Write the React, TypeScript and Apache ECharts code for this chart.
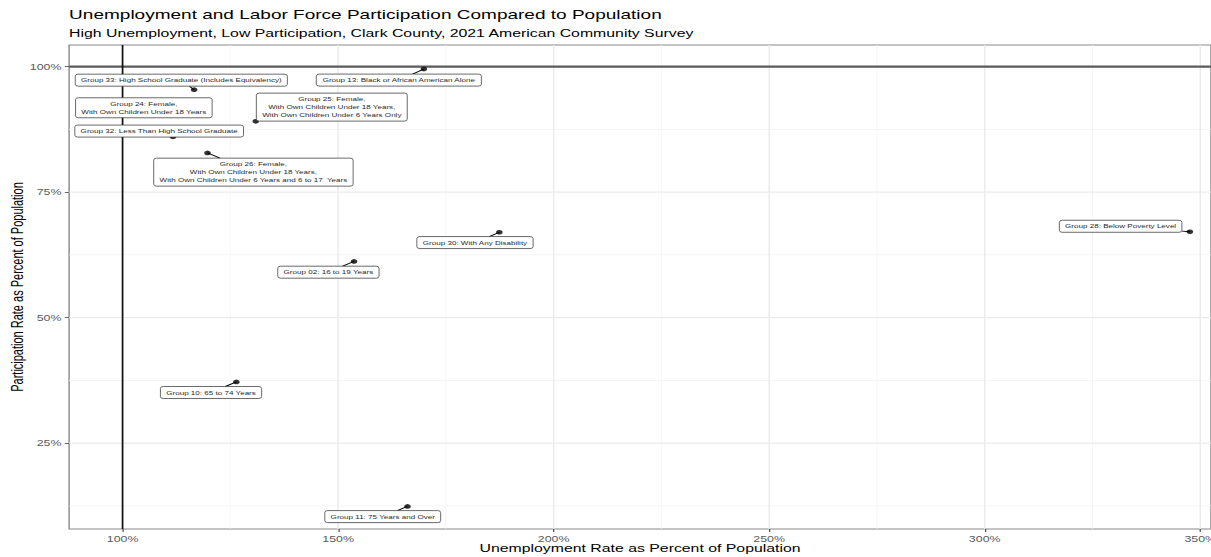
import React, { useEffect, useRef } from 'react';
import * as echarts from 'echarts';

// ---------- data ----------
const groupLabels = [
  'Group 33: High School Graduate (Includes Equivalency)',
  'Group 13: Black or African American Alone',
  'Group 24: Female,\nWith Own Children Under 18 Years',
  'Group 25: Female,\nWith Own Children Under 18 Years,\nWith Own Children Under 6 Years Only',
  'Group 32: Less Than High School Graduate',
  'Group 26: Female,\nWith Own Children Under 18 Years,\nWith Own Children Under 6 Years and 6 to 17  Years',
  'Group 30: With Any Disability',
  'Group 02: 16 to 19 Years',
  'Group 28: Below Poverty Level',
  'Group 10: 65 to 74 Years',
  'Group 11: 75 Years and Over',
];
const unemploymentPct = [116.6, 169.9, 104.5, 130.9, 111.7, 119.7, 187.4, 153.7, 347.6, 126.4, 166.1];
const participationPct = [95.4, 99.5, 91.0, 89.1, 86.0, 82.8, 67.0, 61.2, 67.1, 37.2, 12.4];

const xTickValues = [100, 150, 200, 250, 300, 350];
const yTickValues = [25, 50, 75, 100];
const xMinorGrid = [125, 175, 225, 275, 325];
const yMinorGrid = [12.5, 37.5, 62.5, 87.5];
const referenceX = [100];
const referenceY = [100];

const titleText = 'Unemployment and Labor Force Participation Compared to Population';
const subtitleText = 'High Unemployment, Low Participation, Clark County, 2021 American Community Survey';
const xTitle = 'Unemployment Rate as Percent of Population';
const yTitle = 'Participation Rate as Percent of Population';

// ---------- layout (pixels, in the un-stretched chart frame) ----------
const labelOffsets: number[][] = [
  [-8.9, -9.5],
  [-17.4, 11],
  [1.3, -4],
  [52.8, -14.2],
  [-9.6, -5.8],
  [31.9, 19.2],
  [-16.9, 10.3],
  [-17.8, 10.8],
  [-48.1, -5.5],
  [-17.6, 10.6],
  [-17.2, 10.2],
];

const FONT = '"Liberation Sans", Arial, Helvetica, sans-serif';
const INNER_W = 841;
const H = 557;
const SX = 1211 / INNER_W;
const LBL_FS = 5.6;
const LBL_LH = 8;
const PAD_H = 4;
const PAD_V = 2;

let measureCtx: CanvasRenderingContext2D | null = null;
function measure(t: string): number {
  if (!measureCtx) {
    const c = document.createElement('canvas');
    measureCtx = c.getContext('2d');
  }
  if (!measureCtx) return t.length * LBL_FS * 0.5;
  measureCtx.font = `${LBL_FS}px ${FONT}`;
  return measureCtx.measureText(t).width;
}

export default function App() {
  const ref = useRef<HTMLDivElement>(null);
  useEffect(() => {
    if (!ref.current) return;
    const chart = echarts.init(ref.current, undefined, { renderer: 'svg' });

    const vLines = (values: number[], color: string, width: number, z: number) => ({
      type: 'custom',
      z,
      silent: true,
      clip: true,
      encode: { x: 0 },
      data: values.map((v) => [v]),
      renderItem: (params: any, api: any) => {
        const cs = params.coordSys;
        const px = api.coord([api.value(0), 50])[0];
        return {
          type: 'line',
          shape: { x1: px, y1: cs.y, x2: px, y2: cs.y + cs.height },
          style: { stroke: color, lineWidth: width },
        };
      },
    });
    const hLines = (values: number[], color: string, width: number, z: number) => ({
      type: 'custom',
      z,
      silent: true,
      clip: true,
      encode: { y: 0 },
      data: values.map((v) => [v]),
      renderItem: (params: any, api: any) => {
        const cs = params.coordSys;
        const py = api.coord([200, api.value(0)])[1];
        return {
          type: 'line',
          shape: { x1: cs.x, y1: py, x2: cs.x + cs.width, y2: py },
          style: { stroke: color, lineWidth: width },
        };
      },
    });

    const points = unemploymentPct.map((x, i) => [x, participationPct[i]]);

    const option: any = {
      animation: false,
      backgroundColor: '#fff',
      title: [
        {
          text: titleText,
          left: 48,
          top: 8,
          padding: 0,
          textStyle: { fontSize: 13.2, fontWeight: 'normal', color: '#000', fontFamily: FONT, lineHeight: 13.2 },
        },
        {
          text: subtitleText,
          left: 48,
          top: 28,
          padding: 0,
          textStyle: { fontSize: 11, fontWeight: 'normal', color: '#000', fontFamily: FONT, lineHeight: 11 },
        },
      ],
      grid: {
        left: 48,
        right: 0,
        top: 45,
        bottom: 28,
        containLabel: false,
        outerBoundsMode: 'none',
        show: true,
        borderColor: '#8a8a8a',
        borderWidth: 1,
        backgroundColor: 'transparent',
      },
      xAxis: {
        type: 'value',
        min: 87.6,
        max: 352.5,
        name: xTitle,
        nameLocation: 'middle',
        nameGap: 14,
        nameMoveOverlap: false,
        nameTextStyle: { fontSize: 11, color: '#000', fontFamily: FONT },
        axisLine: { show: false },
        splitLine: { show: false },
        axisTick: {
          show: true,
          length: 3,
          customValues: xTickValues,
          lineStyle: { color: '#444', width: 0.8 },
        },
        axisLabel: {
          customValues: xTickValues,
          formatter: '{value}%',
          fontSize: 8.6,
          color: '#5a5a5a',
          fontFamily: FONT,
          margin: 5,
        },
      },
      yAxis: {
        type: 'value',
        min: 7.9,
        max: 104.3,
        name: yTitle,
        nameLocation: 'middle',
        nameGap: 30,
        nameMoveOverlap: false,
        nameTextStyle: { fontSize: 11, color: '#000', fontFamily: FONT },
        axisLine: { show: false },
        splitLine: { show: false },
        axisTick: {
          show: true,
          length: 3,
          customValues: yTickValues,
          lineStyle: { color: '#444', width: 0.8 },
        },
        axisLabel: {
          customValues: yTickValues,
          formatter: '{value}%',
          fontSize: 8.6,
          color: '#5a5a5a',
          fontFamily: FONT,
          margin: 5.3,
        },
      },
      series: [
        vLines(xMinorGrid, '#f2f2f2', 0.6, 1),
        hLines(yMinorGrid, '#f2f2f2', 0.8, 1),
        vLines(xTickValues, '#ebebeb', 1, 1),
        hLines(yTickValues, '#ebebeb', 1.2, 1),
        hLines(referenceY, '#5a5a5a', 2.2, 2),
        vLines(referenceX, '#111', 1.2, 2),
        {
          type: 'scatter',
          z: 3,
          silent: true,
          symbol: 'circle',
          symbolSize: 4.6,
          itemStyle: { color: '#000' },
          data: points,
        },
        {
          type: 'custom',
          z: 4,
          silent: true,
          clip: false,
          data: points,
          renderItem: (params: any, api: any) => {
            const i = params.dataIndex;
            const p = api.coord([api.value(0), api.value(1)]);
            const off = labelOffsets[i];
            const cx = p[0] + off[0];
            const cy = p[1] + off[1];
            const lines = groupLabels[i].split('\n');
            const tw = Math.max(...lines.map(measure));
            const bw = tw + 2 * PAD_H;
            const bh = lines.length * LBL_LH + 2 * PAD_V;
            const x0 = cx - bw / 2;
            const y0 = cy - bh / 2;
            const x1 = cx + bw / 2;
            const y1 = cy + bh / 2;
            const children: any[] = [];
            const inside = p[0] >= x0 && p[0] <= x1 && p[1] >= y0 && p[1] <= y1;
            if (!inside) {
              const vx = cx - p[0];
              const vy = cy - p[1];
              const tx = vx !== 0 ? ((vx > 0 ? x0 : x1) - p[0]) / vx : -Infinity;
              const ty = vy !== 0 ? ((vy > 0 ? y0 : y1) - p[1]) / vy : -Infinity;
              const t = Math.max(tx, ty);
              children.push({
                type: 'line',
                shape: { x1: p[0], y1: p[1], x2: p[0] + vx * t, y2: p[1] + vy * t },
                style: { stroke: '#000', lineWidth: 0.9 },
              });
            }
            children.push({
              type: 'rect',
              shape: { x: x0, y: y0, width: bw, height: bh, r: 2 },
              style: { fill: '#fff', stroke: '#333', lineWidth: 0.6 },
            });
            children.push({
              type: 'text',
              style: {
                text: groupLabels[i],
                x: cx,
                y: cy,
                align: 'center',
                verticalAlign: 'middle',
                fontSize: LBL_FS,
                lineHeight: LBL_LH,
                fontFamily: FONT,
                fill: '#2a2a2a',
              },
            });
            return { type: 'group', children };
          },
        },
      ],
    };
    chart.setOption(option);
    return () => chart.dispose();
  }, []);

  return (
    <div
      ref={ref}
      style={{
        position: 'absolute',
        left: 0,
        top: 0,
        width: INNER_W,
        height: H,
        transform: `scaleX(${SX})`,
        transformOrigin: '0 0',
        background: '#fff',
      }}
    />
  );
}
